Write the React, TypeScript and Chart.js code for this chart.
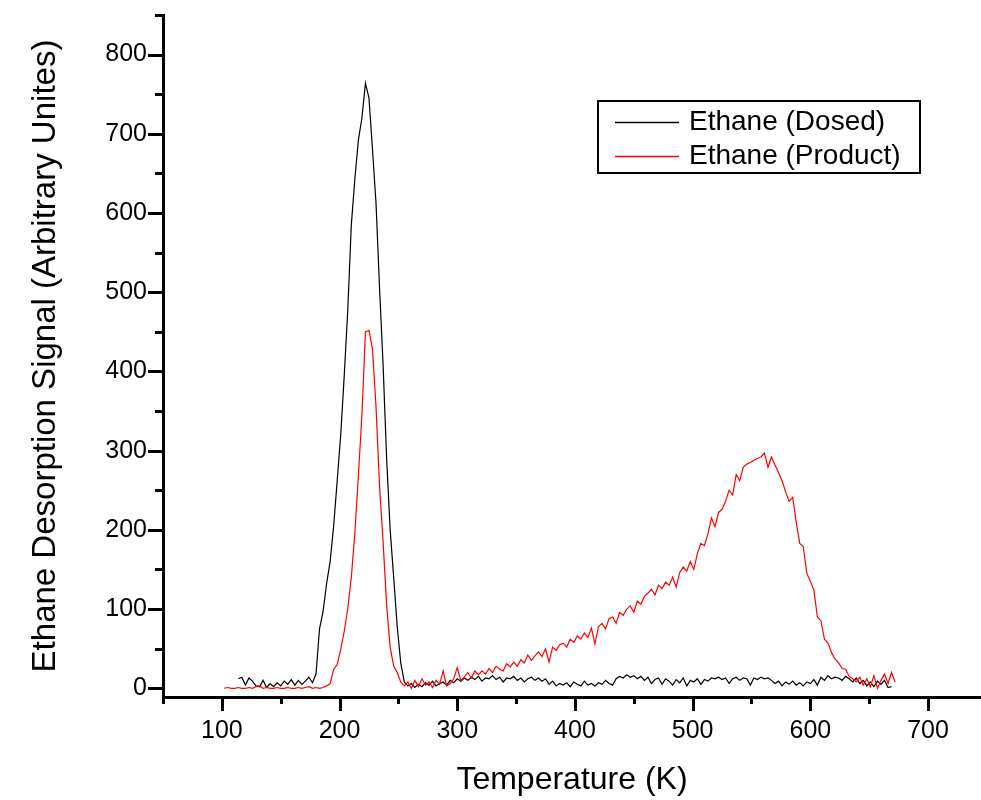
import React, { useEffect, useRef } from 'react';
import { Chart, registerables } from 'chart.js';

Chart.register(...registerables);

const FONT = '"Liberation Sans", Arial, Helvetica, sans-serif';

// Temperature grid (K)
const temperatureK = [
  102, 105, 108, 111, 114, 117, 120, 123, 126, 129,
  132, 135, 138, 141, 144, 147, 150, 153, 156, 159,
  162, 165, 168, 171, 174, 177, 180, 183, 186, 189,
  192, 195, 198, 201, 204, 207, 210, 213, 216, 219,
  222, 225, 228, 231, 234, 237, 240, 243, 246, 249,
  252, 255, 258, 261, 264, 267, 270, 273, 276, 279,
  282, 285, 288, 291, 294, 297, 300, 303, 306, 309,
  312, 315, 318, 321, 324, 327, 330, 333, 336, 339,
  342, 345, 348, 351, 354, 357, 360, 363, 366, 369,
  372, 375, 378, 381, 384, 387, 390, 393, 396, 399,
  402, 405, 408, 411, 414, 417, 420, 423, 426, 429,
  432, 435, 438, 441, 444, 447, 450, 453, 456, 459,
  462, 465, 468, 471, 474, 477, 480, 483, 486, 489,
  492, 495, 498, 501, 504, 507, 510, 513, 516, 519,
  522, 525, 528, 531, 534, 537, 540, 543, 546, 549,
  552, 555, 558, 561, 564, 567, 570, 573, 576, 579,
  582, 585, 588, 591, 594, 597, 600, 603, 606, 609,
  612, 615, 618, 621, 624, 627, 630, 633, 636, 639,
  642, 645, 648, 651, 654, 657, 660, 663, 666, 669,
  672,
];

// Ethane (Dosed) signal
const dosedSignal: (number | null)[] = [
  null, null, null, null, 12, 14, 4, 13, 9, 3,
  2, 10, 1, 6, 2, 7, 3, 9, 5, 11,
  4, 10, 5, 9, 14, 7, 18, 75, 97, 132,
  160, 205, 262, 320, 395, 478, 585, 643, 692, 720,
  764, 745, 680, 612, 505, 408, 290, 200, 140, 78,
  32, 8, 3, 6, 1, 5, 2, 7, 4, 9,
  3, 6, 8, 4, 10, 7, 12, 9, 13, 10,
  14, 11, 15, 9, 13, 12, 16, 11, 14, 8,
  13, 12, 15, 10, 13, 8, 12, 14, 10, 13,
  9, 12, 5, 9, 3, 6, 4, 7, 2, 8,
  5, 3, 9, 4, 6, 3, 7, 5, 10, 6,
  4, 12, 15, 13, 17, 14, 16, 12, 15, 10,
  14, 6, 11, 13, 5, 12, 9, 4, 11, 7,
  13, 3, 10, 8, 12, 5, 11, 9, 13, 12,
  14, 11, 13, 6, 12, 14, 10, 13, 12, 4,
  13, 11, 14, 12, 13, 10, 6, 9, 3, 8,
  5, 9, 4, 7, 3, 8, 6, 11, 4, 14,
  10, 16, 12, 14, 13, 10, 15, 12, 8, 13,
  6, 10, 3, 8, 2, 9, 5, 10, 1, 2,
  null,
];

// Ethane (Product) signal
const productSignal: (number | null)[] = [
  0, 1, 0, 0, 1, 0, 0, 1, 0, 2,
  3, 0, 1, 0, 0, 1, 0, 0, 1, 0,
  0, 1, 0, 1, 2, 0, 1, 0, 1, 3,
  6, 24, 30, 49, 72, 101, 140, 196, 268, 345,
  450, 452, 428, 355, 255, 185, 105, 52, 28, 20,
  8, 3, 8, 0, 10, 2, 12, 4, 8, 1,
  10, 5, 22, 3, 6, 12, 26, 10, 14, 20,
  13, 22, 17, 22, 18, 25, 20, 28, 24, 22,
  31, 27, 33, 28, 36, 32, 42, 35, 41, 46,
  40, 50, 33, 52, 48, 55, 57, 52, 62, 58,
  66, 62, 70, 64, 76, 56, 78, 82, 75, 88,
  90, 82, 96, 92, 100, 104, 96, 110, 106, 116,
  120, 125, 118, 130, 126, 134, 130, 140, 128, 146,
  153, 148, 160, 150, 170, 183, 180, 195, 215, 204,
  222, 226, 236, 250, 244, 270, 262, 279, 283, 285,
  288, 290, 292, 297, 279, 292, 282, 272, 262, 248,
  236, 241, 210, 183, 179, 145, 135, 124, 90, 85,
  62, 57, 45, 37, 32, 25, 24, 15, 12, 8,
  14, 4, 12, 2, 16, 0, 10, 18, 6, 20,
  8,
];

const seriesLabels = ['Ethane (Dosed)', 'Ethane (Product)'];
const seriesColors = ['#000000', '#ff0000'];

const xTitle = 'Temperature (K)';
const yTitle = 'Ethane Desorption Signal (Arbitrary Unites)';

function toPoints(values: (number | null)[]) {
  const pts: { x: number; y: number }[] = [];
  values.forEach((v, i) => {
    if (v !== null) pts.push({ x: temperatureK[i], y: v });
  });
  return pts;
}

const tickMarksPlugin = {
  id: 'tickMarks',
  afterDraw(chart: any) {
    const { ctx, chartArea: area } = chart;
    const xs = chart.scales.x;
    const ys = chart.scales.y;
    ctx.save();
    ctx.strokeStyle = '#000';
    ctx.lineWidth = 3;
    ctx.lineCap = 'butt';
    ctx.beginPath();
    xs.ticks.forEach((t: any) => {
      const px = Math.round(xs.getPixelForValue(t.value)) + 0.5;
      if (px < area.left - 2 || px > area.right + 2) return;
      const len = t.value % 100 === 0 ? 14 : 7;
      ctx.moveTo(px, area.bottom);
      ctx.lineTo(px, area.bottom + len);
    });
    ys.ticks.forEach((t: any) => {
      const py = Math.round(ys.getPixelForValue(t.value)) + 0.5;
      if (py < area.top - 2 || py > area.bottom + 2) return;
      const len = t.value % 100 === 0 ? 15 : 8;
      ctx.moveTo(area.left, py);
      ctx.lineTo(area.left - len, py);
    });
    ctx.stroke();
    ctx.restore();
  },
};

const boxLegendPlugin = {
  id: 'boxLegend',
  afterDraw(chart: any) {
    const { ctx } = chart;
    const left = 598;
    const top = 101;
    const w = 322;
    const h = 72;
    ctx.save();
    ctx.fillStyle = '#ffffff';
    ctx.fillRect(left, top, w, h);
    ctx.lineWidth = 2;
    ctx.strokeStyle = '#000';
    ctx.strokeRect(left, top, w, h);
    ctx.font = `28px ${FONT}`;
    ctx.textBaseline = 'middle';
    ctx.textAlign = 'left';
    const rows = [122, 156];
    chart.data.datasets.forEach((ds: any, i: number) => {
      const y = rows[i];
      ctx.beginPath();
      ctx.strokeStyle = ds.borderColor;
      ctx.lineWidth = 1.3;
      ctx.moveTo(615, y + 0.5);
      ctx.lineTo(679, y + 0.5);
      ctx.stroke();
      ctx.fillStyle = '#000';
      ctx.fillText(ds.label, 689, y);
    });
    ctx.restore();
  },
};

export default function App() {
  const canvasRef = useRef<HTMLCanvasElement | null>(null);

  useEffect(() => {
    if (!canvasRef.current) return;
    const chart = new Chart(canvasRef.current, {
      type: 'line',
      data: {
        datasets: [
          {
            label: seriesLabels[0],
            data: toPoints(dosedSignal),
            borderColor: seriesColors[0],
            backgroundColor: seriesColors[0],
            borderWidth: 1.2,
            pointRadius: 0,
            tension: 0,
            fill: false,
            order: 2,
          },
          {
            label: seriesLabels[1],
            data: toPoints(productSignal),
            borderColor: seriesColors[1],
            backgroundColor: seriesColors[1],
            borderWidth: 1.2,
            pointRadius: 0,
            tension: 0,
            fill: false,
            order: 1,
          },
        ],
      },
      options: {
        animation: false,
        responsive: false,
        maintainAspectRatio: false,
        layout: { padding: { top: 15, right: 0, left: 0, bottom: 0 } },
        plugins: {
          legend: { display: false },
          tooltip: { enabled: false },
        },
        scales: {
          x: {
            type: 'linear',
            position: 'bottom',
            min: 50,
            max: 745,
            afterFit: (s: any) => {
              s.height = 103;
              s.paddingLeft = 0;
              s.paddingRight = 0;
            },
            grid: { display: true, drawOnChartArea: false, drawTicks: false },
            border: { display: true, color: '#000', width: 3 },
            ticks: {
              stepSize: 50,
              includeBounds: false,
              autoSkip: false,
              maxRotation: 0,
              padding: 19,
              color: '#000',
              font: { size: 25, family: FONT },
              callback: (v: any) => (Number(v) % 100 === 0 ? String(v) : ''),
            },
            title: {
              display: true,
              text: xTitle,
              color: '#000',
              font: { size: 32, family: FONT },
              padding: { top: 0, bottom: 1 },
            },
          },
          y: {
            type: 'linear',
            position: 'left',
            min: -11,
            max: 850,
            afterFit: (s: any) => {
              s.width = 163;
              s.paddingTop = 0;
              s.paddingBottom = 0;
            },
            grid: { display: true, drawOnChartArea: false, drawTicks: false },
            border: { display: true, color: '#000', width: 3 },
            ticks: {
              stepSize: 50,
              includeBounds: false,
              autoSkip: false,
              padding: 16,
              color: '#000',
              font: { size: 25, family: FONT },
              callback: (v: any) => (Number(v) % 100 === 0 ? String(v) : ''),
            },
            title: {
              display: true,
              text: yTitle,
              color: '#000',
              font: { size: 33, family: FONT },
              padding: { top: 26, bottom: 0 },
            },
          },
        },
      },
      plugins: [tickMarksPlugin, boxLegendPlugin],
    } as any);
    return () => chart.destroy();
  }, []);

  return (
    <div style={{ position: 'fixed', left: 0, top: 0, width: 981, height: 800, background: '#fff' }}>
      <canvas ref={canvasRef} width={981} height={800} style={{ width: 981, height: 800 }} />
    </div>
  );
}
